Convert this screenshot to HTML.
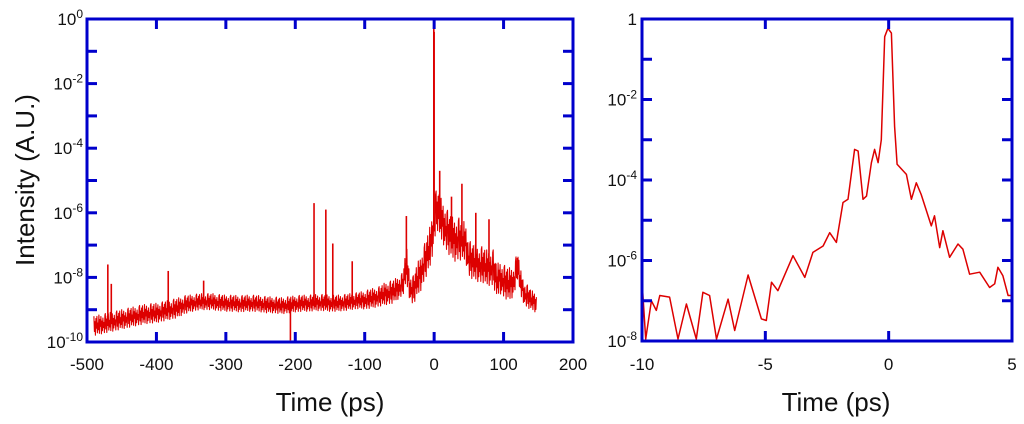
<!DOCTYPE html>
<html><head><meta charset="utf-8"><style>
html,body{margin:0;padding:0;background:#fff;}
svg{display:block;font-family:"Liberation Sans",Arial,sans-serif;}
</style></head><body>
<svg id="chart" width="1024" height="424" viewBox="0 0 1024 424" xmlns="http://www.w3.org/2000/svg">
<g id="left"></g>
<g id="right"></g>
<text x="0" y="0" transform="translate(34,180) rotate(-90)" text-anchor="middle" font-size="26" fill="#111">Intensity (A.U.)</text>
<text x="330" y="411" text-anchor="middle" font-size="26" fill="#111">Time (ps)</text>
<text x="836" y="411" text-anchor="middle" font-size="26" fill="#111">Time (ps)</text>
</svg>
<script>
// ---- Left panel data (log10 intensity) ----
const leftTimes = [-490,-480,-470,-460,-450,-440,-430,-420,-410,-400,-390,-380,-370,-360,-350,-340,-330,-320,-310,-300,-290,-280,-270,-260,-250,-240,-230,-220,-210,-200,-190,-180,-170,-160,-150,-140,-130,-120,-110,-100,-90,-80,-70,-60,-50,-45,-40,-35,-30,-25,-20,-15,-10,-5,-2,2,5,10,15,20,25,30,35,45,50,55,60,65,70,75,85,90,95,100,105,110,115,120,125,130,135,140,148];
const leftCenter = [-9.5,-9.45,-9.4,-9.35,-9.3,-9.25,-9.2,-9.15,-9.12,-9.1,-9.05,-9.0,-8.95,-8.85,-8.8,-8.76,-8.75,-8.75,-8.78,-8.8,-8.8,-8.82,-8.8,-8.8,-8.82,-8.85,-8.85,-8.88,-8.85,-8.82,-8.8,-8.8,-8.78,-8.78,-8.8,-8.8,-8.78,-8.75,-8.72,-8.7,-8.65,-8.6,-8.5,-8.45,-8.3,-8.2,-7.6,-8.3,-8.4,-8.1,-7.9,-7.6,-7.3,-7.0,-6.6,-6.0,-5.9,-6.2,-6.4,-6.6,-6.75,-6.85,-6.8,-6.9,-7.4,-7.5,-7.55,-7.6,-7.6,-7.7,-7.7,-8.1,-8.0,-8.1,-8.2,-8.2,-8.1,-7.6,-8.2,-8.5,-8.6,-8.7,-8.8];
const leftHalfWidth = [0.3,0.3,0.3,0.3,0.3,0.3,0.3,0.3,0.3,0.3,0.3,0.3,0.3,0.28,0.26,0.25,0.25,0.25,0.25,0.25,0.25,0.25,0.25,0.25,0.25,0.25,0.25,0.25,0.25,0.25,0.25,0.25,0.25,0.25,0.25,0.25,0.25,0.25,0.25,0.28,0.3,0.3,0.35,0.35,0.35,0.35,0.6,0.4,0.45,0.5,0.55,0.55,0.6,0.65,0.65,0.65,0.65,0.65,0.65,0.65,0.65,0.65,0.65,0.6,0.55,0.55,0.55,0.55,0.55,0.55,0.55,0.5,0.5,0.5,0.5,0.5,0.45,0.45,0.4,0.35,0.35,0.3,0.3];
const jitterPattern = [1,-0.6,0.4,-1,0.7,-0.3,0.9,-0.8,0.2,-0.5,1,-0.9,0.5,-0.2,0.8,-1,0.3,-0.7,0.6,-0.4,0.1,-0.95,0.85];
const spikeTimes = [-470,-465,-383,-332,-207,-173,-156,-146,-118,-40,-0.5,0,8,25,40,60,79,120];
const spikeValues = [-7.6,-8.2,-7.8,-8.1,-9.95,-5.7,-5.9,-6.95,-7.5,-6.1,-0.3,-0.4,-4.7,-5.5,-5.1,-6.0,-6.2,-7.4];
const leftXTicks = [-500,-400,-300,-200,-100,0,100,200];
const leftYLabels = [0,-2,-4,-6,-8,-10];

// ---- Right panel data ----
const rightTimes = [-10.0,-9.85,-9.62,-9.42,-9.28,-8.88,-8.54,-8.2,-7.8,-7.53,-7.26,-6.98,-6.51,-6.24,-5.7,-5.16,-4.96,-4.75,-4.49,-3.88,-3.4,-3.07,-2.66,-2.39,-2.12,-1.85,-1.65,-1.38,-1.24,-1.04,-0.9,-0.7,-0.57,-0.43,-0.3,-0.16,-0.03,0.11,0.24,0.34,0.72,0.92,1.12,1.32,1.73,1.86,2.07,2.2,2.47,2.81,3.01,3.28,3.69,4.09,4.3,4.43,4.63,4.84,4.97];
const rightValues = [-6.5,-7.95,-7.0,-7.24,-6.87,-6.91,-7.95,-7.08,-7.95,-6.79,-6.87,-7.95,-6.96,-7.74,-6.36,-7.45,-7.49,-6.54,-6.75,-5.88,-6.42,-5.8,-5.64,-5.31,-5.55,-4.56,-4.48,-3.24,-3.28,-4.48,-4.4,-3.57,-3.24,-3.57,-3.0,-0.44,-0.23,-0.35,-2.67,-3.61,-3.86,-4.48,-4.07,-4.36,-5.14,-4.89,-5.68,-5.26,-5.92,-5.59,-5.72,-6.34,-6.29,-6.67,-6.58,-6.17,-6.38,-6.87,-6.87];
const rightXTicks = [-10,-5,0,5];
const rightYLabels = [0,-2,-4,-6,-8];

const NS = 'http://www.w3.org/2000/svg';
const BLUE = '#0000cc', RED = '#dd0000';
function mk(parent, tag, attrs){const e=document.createElementNS(NS,tag);for(const k in attrs)e.setAttribute(k,attrs[k]);parent.appendChild(e);return e;}

function axes(x0, x1, y0, y1, xmin, xmax, ymin, ymax){
  const sx = v => x0 + (v - xmin) / (xmax - xmin) * (x1 - x0);
  const sy = v => y1 - (v - ymin) / (ymax - ymin) * (y1 - y0);
  return {sx, sy};
}
function frame(g, x0, x1, y0, y1){
  const r = mk(g,'rect',{x:x0,y:y0,width:x1-x0,height:y1-y0,fill:'none',stroke:BLUE,'stroke-width':3});
  
  
}
function tickLine(g, a, b, c, d, name){
  const l = mk(g,'line',{x1:a,y1:b,x2:c,y2:d,stroke:BLUE,'stroke-width':3});
  
  
}
function powLabel(g, x, y, exp, name){
  const t = mk(g,'text',{x:x,y:y,'text-anchor':'end','font-size':17,fill:'#111'});
  
  
  if (exp === 0 && name.startsWith('right')) { t.textContent='1'; return; }
  const base = document.createElementNS(NS,'tspan'); base.textContent='10'; t.appendChild(base);
  const sup = document.createElementNS(NS,'tspan'); sup.setAttribute('dy','-7'); sup.setAttribute('font-size','12'); sup.textContent=String(exp); t.appendChild(sup);
}

// ---- Left panel ----
(function(){
  const g = document.getElementById('left');
  const x0=87,x1=573,y0=19,y1=342;
  const {sx,sy} = axes(x0,x1,y0,y1,-500,200,-10,0);
  const pts=[];
  let k=0;
  for(let i=0;i<leftTimes.length-1;i++){
    const ta=leftTimes[i], tb=leftTimes[i+1];
    const steps=Math.max(1,Math.round((tb-ta)/0.7));
    for(let s=0;s<steps;s++){
      const f=s/steps;
      const t=ta+(tb-ta)*f;
      const c=leftCenter[i]*(1-f)+leftCenter[i+1]*f;
      const h=leftHalfWidth[i]*(1-f)+leftHalfWidth[i+1]*f;
      const v=c+h*jitterPattern[k%jitterPattern.length];
      k++;
      pts.push(sx(t).toFixed(1)+','+sy(Math.max(-10,Math.min(0,v))).toFixed(1));
    }
  }
  const line = mk(g,'polyline',{points:pts.join(' '),fill:'none',stroke:RED,'stroke-width':1.1,'stroke-linejoin':'round'});
  
  
  for(let j=0;j<spikeTimes.length;j++){
    let i = leftTimes.findIndex((t,n)=>n<leftTimes.length-1 && spikeTimes[j]>=t && spikeTimes[j]<=leftTimes[n+1]);
    if(i<0) i=0;
    const f=(spikeTimes[j]-leftTimes[i])/(leftTimes[i+1]-leftTimes[i]);
    const c=leftCenter[i]*(1-f)+leftCenter[i+1]*f;
    const s = mk(g,'line',{x1:sx(spikeTimes[j]),y1:sy(c),x2:sx(spikeTimes[j]),y2:sy(spikeValues[j]),stroke:RED,'stroke-width':1.6});
    
    
  }
  frame(g,x0,x1,y0,y1);
  leftXTicks.forEach(v=>{
    const x=sx(v);
    if(v>-500 && v<200){
      tickLine(g,x,y1,x,y1-10,'left-x-tick-bottom');
      tickLine(g,x,y0,x,y0+10,'left-x-tick-top');
    }
    const t=mk(g,'text',{x:x,y:370,'text-anchor':'middle','font-size':17,fill:'#111'});
    t.textContent=String(v);
    
    
  });
  for(let e=-9;e<0;e++){
    const y=sy(e);
    tickLine(g,x0,y,x0+10,y,'left-y-tick');
    tickLine(g,x1,y,x1-10,y,'left-y-tick-right');
  }
  leftYLabels.forEach(e=>powLabel(g,83,sy(e)+6,e,'left-y-tick-label'));
})();

// ---- Right panel ----
(function(){
  const g = document.getElementById('right');
  const x0=642,x1=1012,y0=19,y1=341;
  const {sx,sy} = axes(x0,x1,y0,y1,-10,5,-8,0);
  const pts = rightTimes.map((t,i)=>sx(t).toFixed(1)+','+sy(Math.max(-8,rightValues[i])).toFixed(1));
  const line = mk(g,'polyline',{points:pts.join(' '),fill:'none',stroke:RED,'stroke-width':1.5,'stroke-linejoin':'round'});
  
  
  frame(g,x0,x1,y0,y1);
  rightXTicks.forEach(v=>{
    const x=sx(v);
    if(v>-10 && v<5){
      tickLine(g,x,y1,x,y1-10,'right-x-tick-bottom');
      tickLine(g,x,y0,x,y0+10,'right-x-tick-top');
    }
    const t=mk(g,'text',{x:x,y:370,'text-anchor':'middle','font-size':17,fill:'#111'});
    t.textContent=String(v);
    
    
  });
  for(let e=-7;e<0;e++){
    const y=sy(e);
    tickLine(g,x0,y,x0+10,y,'right-y-tick');
    tickLine(g,x1,y,x1-10,y,'right-y-tick-right');
  }
  rightYLabels.forEach(e=>powLabel(g,637,sy(e)+6,e,'right-y-tick-label'));
})();
</script>
</body></html>
